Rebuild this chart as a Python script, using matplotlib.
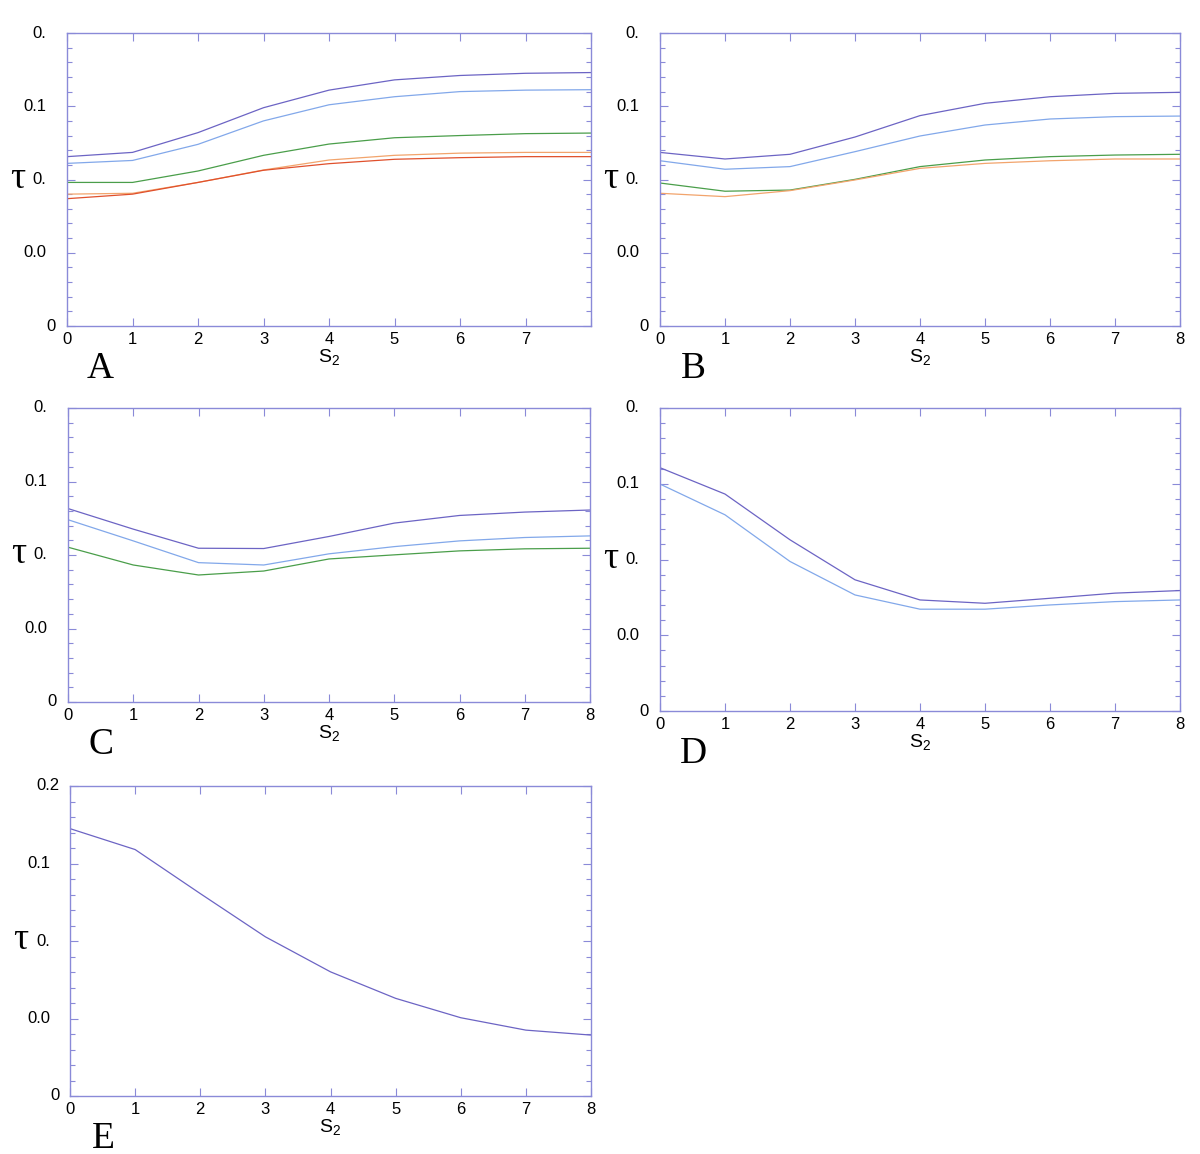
import matplotlib
matplotlib.use('Agg')
import matplotlib.pyplot as plt
from matplotlib.textpath import TextPath
from matplotlib.font_manager import FontProperties

plt.rcParams['font.family'] = ['Liberation Sans', 'DejaVu Sans']

s2 = [0, 1, 2, 3, 4, 5, 6, 7, 8]

# panel A
a_purple = [0.1156, 0.1185, 0.132, 0.149, 0.161, 0.168, 0.171, 0.1725, 0.173]
a_blue = [0.111, 0.113, 0.124, 0.140, 0.151, 0.1565, 0.160, 0.161, 0.1613]
a_green = [0.098, 0.098, 0.1058, 0.1165, 0.1242, 0.1285, 0.130, 0.1313, 0.1317]
a_orange = [0.090, 0.0906, 0.098, 0.1065, 0.1133, 0.1165, 0.118, 0.1185, 0.1185]
a_red = [0.0869, 0.090, 0.098, 0.1063, 0.1108, 0.1138, 0.1149, 0.1156, 0.1156]

# panel B
b_purple = [0.1185, 0.114, 0.1172, 0.129, 0.1436, 0.152, 0.1565, 0.1588, 0.1595]
b_blue = [0.1128, 0.107, 0.1088, 0.119, 0.1297, 0.1372, 0.1413, 0.1429, 0.1433]
b_green = [0.0976, 0.092, 0.0928, 0.1001, 0.1088, 0.1133, 0.1156, 0.1167, 0.1172]
b_orange = [0.0906, 0.0883, 0.0924, 0.0997, 0.1076, 0.111, 0.1128, 0.114, 0.114]

# panel C
c_purple = [0.1316, 0.1176, 0.1046, 0.1044, 0.1126, 0.1217, 0.1269, 0.1292, 0.1306]
c_blue = [0.124, 0.1096, 0.0948, 0.0932, 0.1008, 0.1057, 0.1096, 0.1119, 0.113]
c_green = [0.1053, 0.0932, 0.0864, 0.0891, 0.0973, 0.1001, 0.1028, 0.1042, 0.1046]

# panel D
d_purple = [0.1606, 0.1432, 0.113, 0.0866, 0.0733, 0.0711, 0.0744, 0.0778, 0.0795]
d_blue = [0.1498, 0.1295, 0.0987, 0.0766, 0.0672, 0.0672, 0.070, 0.0722, 0.0733]

# panel E
e_purple = [0.1725, 0.159, 0.1306, 0.1027, 0.0801, 0.063, 0.0505, 0.0425, 0.0393]

y_ticks = [0, 0.05, 0.1, 0.15, 0.2]
y_full = ['0', '0.05', '0.1', '0.15', '0.2']
y_shown = ['0', '0.0', '0.', '0.1', '0.']
y_shown_e = ['0', '0.0', '0.', '0.1', '0.2']
x_labels = ['0', '1', '2', '3', '4', '5', '6', '7', '8']
x_labels_a = ['0', '1', '2', '3', '4', '5', '6', '7', '']

PURPLE = '#6c64c4'
BLUE = '#82a8ea'
GREEN = '#4a9e4a'
ORANGE = '#f2a46c'
RED = '#e0502c'
AXC = '#8a8ad8'

W, H = 1200, 1154
fig = plt.figure(figsize=(W / 100, H / 100), dpi=100)

TICK_FS = 12
tick_font = FontProperties(family='Liberation Sans', size=TICK_FS)


def make_ax(left, right, top, bottom):
    return fig.add_axes([left / W, 1 - bottom / H, (right - left) / W, (bottom - top) / H])


def style(ax, letter, xlabels, shown, pad_px):
    ax.set_xlim(0, 8)
    ax.set_ylim(0, 0.2)
    for sp in ax.spines.values():
        sp.set_color(AXC)
        sp.set_linewidth(1.0)
    ax.set_xticks(s2)
    ax.set_xticklabels(xlabels, fontsize=TICK_FS)
    ax.set_yticks(y_ticks)
    ax.set_yticks([i / 100 for i in range(21)], minor=True)
    ax.set_yticklabels([])
    ax.tick_params(axis='both', which='both', direction='in', color=AXC,
                   top=True, right=True, width=0.8)
    ax.tick_params(axis='both', which='major', length=6)
    ax.tick_params(axis='y', which='minor', length=3.5)
    ax.tick_params(axis='x', which='major', pad=4)
    # y tick labels: placed as if the full value were right-aligned, then cut
    trans = ax.get_yaxis_transform()
    for v, full, txt in zip(y_ticks, y_full, shown):
        w = TextPath((0, 0), full, prop=tick_font).get_extents().width * 100 / 72
        ax.annotate(txt, xy=(0, v), xycoords=trans, xytext=(-(pad_px + w), 0),
                    textcoords='offset pixels', ha='left', va='center',
                    fontsize=TICK_FS)
    ax.set_xlabel(r'S$_\mathregular{2}$', fontsize=14, labelpad=1)
    ax.annotate('τ', xy=(0, 0.1), xycoords=trans, xytext=(-49, 1),
                textcoords='offset pixels', ha='center', va='center',
                fontsize=27, family='Liberation Serif')
    ax.annotate(letter, xy=(0, 0), xycoords='axes fraction', xytext=(33, -52),
                textcoords='offset pixels', ha='center', va='baseline',
                fontsize=27, family='Liberation Serif')


axA = make_ax(67, 591, 33, 326)
for ys, c in [(a_purple, PURPLE), (a_blue, BLUE), (a_green, GREEN),
              (a_orange, ORANGE), (a_red, RED)]:
    axA.plot(s2, ys, color=c, lw=0.9)
style(axA, 'A', x_labels_a, y_shown, 13)

axB = make_ax(660, 1180, 33, 326)
for ys, c in [(b_purple, PURPLE), (b_blue, BLUE), (b_green, GREEN),
              (b_orange, ORANGE)]:
    axB.plot(s2, ys, color=c, lw=0.9)
style(axB, 'B', x_labels, y_shown, 13)

axC = make_ax(68, 590, 408, 702)
for ys, c in [(c_purple, PURPLE), (c_blue, BLUE), (c_green, GREEN)]:
    axC.plot(s2, ys, color=c, lw=0.9)
style(axC, 'C', x_labels, y_shown, 13)

axD = make_ax(660, 1180, 408, 711)
for ys, c in [(d_purple, PURPLE), (d_blue, BLUE)]:
    axD.plot(s2, ys, color=c, lw=0.9)
style(axD, 'D', x_labels, y_shown, 13)

axE = make_ax(70, 591, 786, 1096)
axE.plot(s2, e_purple, color=PURPLE, lw=0.9)
style(axE, 'E', x_labels, y_shown_e, 12)

fig.savefig('out.png', dpi=100)
